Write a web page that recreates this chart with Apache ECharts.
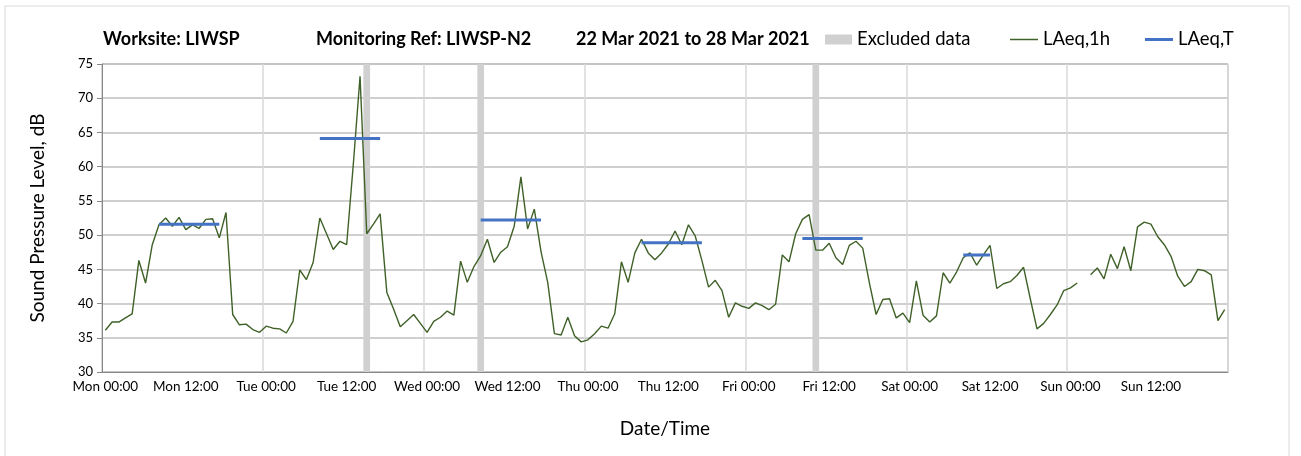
<!DOCTYPE html>
<html>
<head>
<meta charset="utf-8">
<script src="https://cdn.jsdelivr.net/npm/echarts@6/dist/echarts.min.js"></script>
<style>
  html, body { margin: 0; padding: 0; background: #fff; }
  #chart { width: 1301px; height: 456px; }
</style>
</head>
<body>
<div id="chart"></div>
<script>
// hourly categories, Mon 00:00 .. Sun 23:00
var days = ['Mon', 'Tue', 'Wed', 'Thu', 'Fri', 'Sat', 'Sun'];
var hours = [];
days.forEach(function (d) {
  for (var h = 0; h < 24; h++) {
    hours.push(d + ' ' + (h < 10 ? '0' + h : h) + ':00');
  }
});

// LAeq,1h values (dB), one per hour
var laeq1h = [
  36.1, 37.3, 37.3, 37.9, 38.5, 46.3, 43.0, 48.6, 51.5, 52.5, 51.3, 52.6, 50.8, 51.5, 51.0, 52.3, 52.4, 49.6, 53.3, 38.4, 36.9, 37.0, 36.2, 35.8,
  36.7, 36.4, 36.3, 35.7, 37.4, 44.9, 43.5, 46.0, 52.5, 50.2, 47.9, 49.1, 48.6, 60.4, 73.2, 50.2, 51.6, 53.1, 41.6, 39.2, 36.6, 37.5, 38.4, 37.1,
  35.8, 37.4, 38.0, 38.9, 38.3, 46.2, 43.1, 45.4, 47.0, 49.4, 46.0, 47.5, 48.3, 51.3, 58.5, 50.9, 53.8, 47.6, 43.1, 35.6, 35.4, 38.0, 35.3, 34.4,
  34.7, 35.6, 36.7, 36.4, 38.5, 46.1, 43.1, 47.4, 49.4, 47.4, 46.4, 47.4, 48.7, 50.6, 48.6, 51.5, 49.9, 46.3, 42.4, 43.4, 41.9, 38.0, 40.1, 39.6,
  39.3, 40.1, 39.7, 39.1, 39.9, 47.1, 46.1, 50.2, 52.3, 53.0, 47.8, 47.8, 48.8, 46.7, 45.7, 48.5, 49.1, 48.1, 43.0, 38.4, 40.6, 40.7, 37.9, 38.6,
  37.2, 43.3, 38.3, 37.3, 38.2, 44.5, 43.0, 44.6, 46.7, 47.4, 45.6, 47.1, 48.5, 42.2, 42.9, 43.2, 44.1, 45.3, 40.7, 36.3, 37.1, 38.4, 39.8, 41.9,
  42.3, 43.0, null, 44.2, 45.2, 43.6, 47.2, 45.1, 48.3, 44.8, 51.2, 51.9, 51.6, 49.8, 48.6, 46.9, 44.0, 42.5, 43.2, 45.0, 44.8, 44.2, 37.5, 39.1
];

// LAeq,T periods: start hour, end hour, level
var periodStart = ['Mon 08:00', 'Tue 08:00', 'Wed 08:00', 'Thu 08:00', 'Fri 08:00', 'Sat 08:00'];
var periodEnd   = ['Mon 17:00', 'Tue 17:00', 'Wed 17:00', 'Thu 17:00', 'Fri 17:00', 'Sat 12:00'];
var laeqT       = [51.6, 64.1, 52.2, 48.9, 49.5, 47.1];

// excluded hours
var excluded = ['Tue 15:00', 'Wed 08:00', 'Fri 10:00'];

var yTicks = [30, 35, 40, 45, 50, 55, 60, 65, 70, 75];

var FONT = 'Lato, "Open Sans", sans-serif';
var GREEN = '#3f6128';
var BLUE = '#4472c4';
var GREY = '#d0d0d0';

var series = [
  {
    name: 'Excluded data',
    type: 'bar',
    barWidth: '100%',
    itemStyle: { color: GREY },
    data: excluded.map(function (c) { return [c, yTicks[yTicks.length - 1]]; }),
    z: 1,
    silent: true
  },
  {
    name: 'LAeq,1h',
    type: 'line',
    data: laeq1h,
    symbol: 'none',
    connectNulls: false,
    lineStyle: { color: GREEN, width: 1.4 },
    itemStyle: { color: GREEN },
    z: 3
  }
];
laeqT.forEach(function (v, i) {
  series.push({
    name: 'LAeq,T',
    type: 'line',
    data: [[periodStart[i], v], [periodEnd[i], v]],
    symbol: 'none',
    lineStyle: { color: BLUE, width: 3 },
    itemStyle: { color: BLUE },
    z: 4
  });
});

var titleStyle = { fontSize: 18, fontWeight: 'bold', color: '#000', fontFamily: FONT };
var legendText = { fontSize: 18.5, color: '#000', fontFamily: FONT };

var chart = echarts.init(document.getElementById('chart'));
chart.setOption({
  animation: false,
  textStyle: { fontFamily: FONT },
  graphic: [{
    type: 'rect',
    shape: { x: 5, y: 6, width: 1284, height: 470 },
    style: { fill: 'none', stroke: '#d9d9d9', lineWidth: 1 },
    silent: true, z: -10
  }],
  title: [
    { text: 'Worksite: LIWSP', left: 103, top: 30, padding: 0, textStyle: titleStyle },
    { text: 'Monitoring Ref: LIWSP-N2', left: 316, top: 30, padding: 0, textStyle: titleStyle },
    { text: '22 Mar 2021 to 28 Mar 2021', left: 576, top: 30, padding: 0, textStyle: titleStyle }
  ],
  legend: [
    {
      data: [{ name: 'Excluded data', icon: 'rect' }],
      left: 825, top: 30, padding: 0, itemWidth: 27, itemHeight: 10,
      textStyle: legendText
    },
    {
      data: [{ name: 'LAeq,1h', icon: 'rect' }],
      left: 1010, top: 30, padding: 0, itemWidth: 28, itemHeight: 1.5,
      textStyle: legendText
    },
    {
      data: [{ name: 'LAeq,T', icon: 'rect' }],
      left: 1145, top: 30, padding: 0, itemWidth: 28, itemHeight: 3,
      textStyle: legendText
    }
  ],
  grid: {
    left: 102, right: 73, top: 64, bottom: 84,
    show: true, borderColor: '#a6a6a6', borderWidth: 1,
    containLabel: false
  },
  xAxis: {
    type: 'category',
    data: hours,
    boundaryGap: true,
    name: 'Date/Time',
    nameLocation: 'middle',
    nameGap: 47,
    nameTextStyle: { fontSize: 19, color: '#000', fontFamily: FONT },
    axisLine: { lineStyle: { color: '#888888' } },
    axisTick: { interval: 11, length: 5, lineStyle: { color: '#888888' } },
    axisLabel: { interval: 11, fontSize: 13.5, color: '#000', margin: 8, fontFamily: FONT },
    splitLine: { show: true, interval: 23, lineStyle: { color: '#d9d9d9', width: 1.5 } }
  },
  yAxis: {
    type: 'value',
    min: yTicks[0],
    max: yTicks[yTicks.length - 1],
    interval: 5,
    name: 'Sound Pressure Level, dB',
    nameLocation: 'middle',
    nameGap: 55,
    nameTextStyle: { fontSize: 19, color: '#000', fontFamily: FONT },
    axisLine: { show: true, lineStyle: { color: '#888888' } },
    axisTick: { show: true, length: 5, lineStyle: { color: '#888888' } },
    axisLabel: { fontSize: 13, color: '#000', margin: 9, fontFamily: FONT },
    splitLine: { show: true, lineStyle: { color: '#bfbfbf', width: 1.5 } }
  },
  series: series
});
</script>
</body>
</html>
